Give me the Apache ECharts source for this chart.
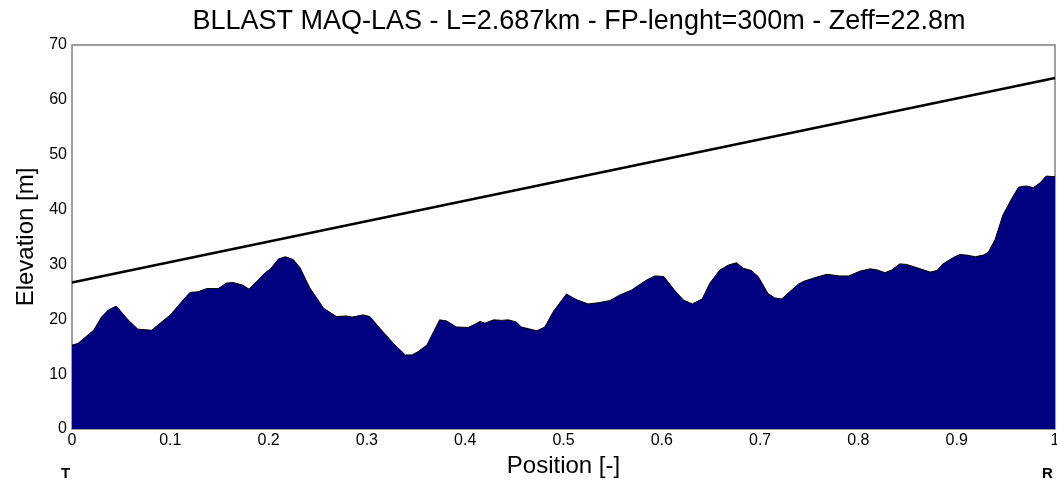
<!DOCTYPE html>
<html>
<head>
<meta charset="utf-8">
<script src="https://cdn.jsdelivr.net/npm/echarts@6/dist/echarts.min.js"></script>
<style>
  html, body { margin: 0; padding: 0; background: #fff; }
  #profile { width: 1057px; height: 484px; }
</style>
</head>
<body>
<div id="profile"></div>
<script>
// terrain profile (position 0..1, elevation in m)
let pos = [0, 0.006, 0.022, 0.030, 0.037, 0.045, 0.057, 0.067, 0.081, 0.100,
  0.113, 0.120, 0.128, 0.137, 0.149, 0.157, 0.164, 0.174, 0.180, 0.188,
  0.196, 0.202, 0.210, 0.217, 0.225, 0.232, 0.242, 0.256, 0.269, 0.279,
  0.285, 0.296, 0.303, 0.313, 0.327, 0.339, 0.346, 0.352, 0.361, 0.374,
  0.381, 0.391, 0.403, 0.410, 0.415, 0.420, 0.429, 0.437, 0.444, 0.452,
  0.457, 0.473, 0.481, 0.490, 0.503, 0.513, 0.525, 0.535, 0.547, 0.557,
  0.569, 0.578, 0.585, 0.593, 0.602, 0.612, 0.622, 0.631, 0.641, 0.649,
  0.659, 0.668, 0.676, 0.683, 0.691, 0.698, 0.708, 0.715, 0.722, 0.730,
  0.739, 0.744, 0.756, 0.768, 0.781, 0.790, 0.802, 0.812, 0.819, 0.827,
  0.834, 0.842, 0.849, 0.863, 0.873, 0.880, 0.886, 0.897, 0.903, 0.910,
  0.919, 0.927, 0.932, 0.939, 0.947, 0.956, 0.963, 0.971, 0.978, 0.985,
  0.991, 1.000];
let elev = [15.3, 15.6, 18.0, 20.4, 21.7, 22.4, 19.9, 18.2, 18.0, 20.8,
  23.5, 24.9, 25.0, 25.6, 25.6, 26.6, 26.7, 26.2, 25.5, 26.9,
  28.4, 29.2, 31.0, 31.4, 30.9, 29.4, 25.7, 22.0, 20.5, 20.6,
  20.4, 20.8, 20.5, 18.4, 15.6, 13.5, 13.5, 14.1, 15.3, 19.9,
  19.7, 18.6, 18.5, 19.1, 19.6, 19.3, 19.9, 19.8, 19.9, 19.5,
  18.6, 17.9, 18.6, 21.5, 24.6, 23.6, 22.8, 23.0, 23.4, 24.4,
  25.3, 26.4, 27.2, 27.9, 27.8, 25.5, 23.5, 22.8, 23.7, 26.6,
  29.0, 29.9, 30.3, 29.3, 28.9, 27.8, 24.7, 23.9, 23.7, 25.0,
  26.4, 26.9, 27.6, 28.2, 27.9, 27.9, 28.8, 29.2, 29.0, 28.5,
  29.0, 30.1, 30.0, 29.2, 28.6, 28.9, 30.1, 31.3, 31.8, 31.7,
  31.4, 31.7, 32.2, 34.5, 39.0, 42.0, 44.1, 44.3, 44.0, 44.9,
  46.1, 46.0];

// line of sight T -> R
let losPos = [0, 1];
let losElev = [26.7, 64.0];

let xTicks = [0, 0.1, 0.2, 0.3, 0.4, 0.5, 0.6, 0.7, 0.8, 0.9, 1];
let titleTxt = 'BLLAST MAQ-LAS - L=2.687km - FP-lenght=300m - Zeff=22.8m';

let font = "'Liberation Sans', Arial, Helvetica, sans-serif";

let profileC = echarts.init(document.getElementById('profile'));
profileC.setOption({
  animation: false,
  textStyle: { fontFamily: font },
  title: {
    text: titleTxt,
    left: 574,
    textAlign: 'center',
    top: 3,
    textStyle: { fontSize: 27, fontWeight: 'normal', color: '#000', fontFamily: font }
  },
  grid: {
    left: 72, right: 2, top: 45, bottom: 55,
    outerBoundsMode: 'none',
    containLabel: false,
    show: true,
    borderColor: '#808080',
    borderWidth: 1.5,
    backgroundColor: '#fff'
  },
  xAxis: {
    type: 'value',
    min: 0,
    max: 1,
    interval: 0.1,
    name: 'Position [-]',
    nameLocation: 'middle',
    nameGap: 24,
    nameTextStyle: { fontSize: 24, color: '#000', fontFamily: font },
    axisLine: { show: false },
    axisTick: { show: false },
    splitLine: { show: false },
    axisLabel: {
      fontSize: 16,
      color: '#000',
      margin: 4,
      formatter: v => xTicks.indexOf(Math.round(v * 10) / 10) >= 0 ? String(Math.round(v * 10) / 10) : ''
    }
  },
  yAxis: {
    type: 'value',
    min: 0,
    max: 70,
    interval: 10,
    name: 'Elevation [m]',
    nameLocation: 'middle',
    nameGap: 30,
    nameTextStyle: { fontSize: 24, color: '#000', fontFamily: font },
    axisLine: { show: false },
    axisTick: { show: false },
    splitLine: { show: false },
    axisLabel: { fontSize: 16, color: '#000', margin: 5 }
  },
  graphic: [
    { type: 'text', left: 61, top: 466, style: { text: 'T', fontSize: 15, fontWeight: 'bold', fill: '#000', fontFamily: font } },
    { type: 'text', left: 1042, top: 466, style: { text: 'R', fontSize: 15, fontWeight: 'bold', fill: '#000', fontFamily: font } }
  ],
  series: [{
    name: 'terrain',
    type: 'line',
    data: pos.map((p, i) => [p, elev[i]]),
    symbol: 'none',
    lineStyle: { color: '#000', width: 1 },
    areaStyle: { color: '#000080', opacity: 1 },
    z: 2
  },
  {
    name: 'los',
    type: 'line',
    data: losPos.map((p, i) => [p, losElev[i]]),
    symbol: 'none',
    lineStyle: { color: '#000', width: 2.5 },
    z: 3
  }
  ]
});
</script>
</body>
</html>
